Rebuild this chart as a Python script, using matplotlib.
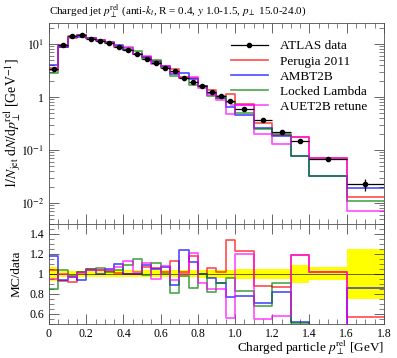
import numpy as np
import matplotlib.pyplot as plt
from matplotlib.lines import Line2D
from matplotlib.ticker import FixedLocator, MultipleLocator, FuncFormatter

plt.rcParams['font.family'] = ['Liberation Serif', 'DejaVu Serif']
plt.rcParams['mathtext.fontset'] = 'stix'
plt.rcParams['font.size'] = 9

# bin edges (GeV)
edges = [0.0, 0.05, 0.1, 0.15, 0.2, 0.25, 0.3, 0.35, 0.4, 0.45, 0.5, 0.55, 0.6, 0.65,
         0.7, 0.75, 0.8, 0.85, 0.9, 0.95, 1.0, 1.1, 1.2, 1.3, 1.4, 1.6, 1.8]

# ATLAS data
data = [3.35, 9.4, 14.2, 14.6, 12.4, 11.3, 10.3, 8.7, 7.7, 6.5, 5.3, 4.45, 3.6,
        3.05, 2.33, 1.94, 1.6, 1.26, 1.04, 0.85, 0.59, 0.368, 0.22, 0.148, 0.068, 0.0225]
data_relerr = [0.07, 0.03, 0.027, 0.027, 0.03, 0.03, 0.03, 0.035, 0.035, 0.035, 0.035,
               0.035, 0.035, 0.035, 0.035, 0.035, 0.04, 0.04, 0.04, 0.04, 0.05, 0.05,
               0.05, 0.09, 0.065, 0.25]

# MC / data ratios
perugia = [1.04, 0.93, 0.92, 1.02, 1.05, 1.04, 1.03, 1.01, 1.0, 1.0, 1.07, 1.06, 1.02,
           1.13, 1.02, 1.18, 1.0, 1.06, 1.02, 1.34, 1.23, 0.88, 0.87, 1.19, 1.02, 0.57]
ambt2b = [1.18, 0.94, 0.97, 0.94, 1.04, 1.0, 1.05, 1.10, 1.0, 1.0, 1.09, 1.05, 1.07,
          0.89, 1.24, 1.12, 1.0, 0.96, 0.91, 0.77, 0.78, 0.71, 0.82, 0.52, 0.48, 0.857]
locked = [0.85, 1.04, 0.98, 1.02, 1.05, 1.06, 1.02, 1.04, 1.09, 1.15, 0.99, 1.11, 1.0,
          0.81, 0.98, 0.86, 1.0, 0.82, 0.91, 0.96, 0.83, 0.68, 0.91, 0.51, 0.48, 0.49]
auet2b = [0.95, 1.0, 0.97, 1.01, 1.04, 1.04, 1.04, 1.07, 1.13, 1.02, 1.11, 0.95, 1.08,
          0.94, 1.0, 1.21, 0.91, 0.85, 0.85, 0.56, 1.20, 0.55, 0.58, 1.19, 1.02, 0.31]

edges = np.array(edges)
data = np.array(data)
err = data * np.array(data_relerr)
centers = 0.5 * (edges[1:] + edges[:-1])
halfw = 0.5 * (edges[1:] - edges[:-1])

mcs = [('Perugia 2011', perugia, 'red'),
       ('AMBT2B', ambt2b, 'blue'),
       ('Locked Lambda', locked, 'green'),
       ('AUET2B retune', auet2b, 'magenta')]

fig = plt.figure(figsize=(3.97, 3.58), dpi=100)
ax = fig.add_axes([0.1234, 0.3743, 0.8436, 0.5615])
rax = fig.add_axes([0.1234, 0.095, 0.8436, 0.2793], sharex=ax)

def step(a, vals, **kw):
    v = np.append(vals, vals[-1])
    return a.step(edges, v, where='post', **kw)

ax.errorbar(centers, data, xerr=halfw, yerr=err, fmt='o', color='black',
            ms=3, lw=0.9, capsize=0, zorder=5)
handles = [Line2D([], [], color='black', lw=0.9, marker='o', ms=3, label='ATLAS data')]
for name, r, c in mcs:
    vals = data * np.array(r)
    l, = step(ax, vals, color=c, lw=1.2, alpha=0.7, label=name)
    handles.append(l)

ax.set_yscale('log')
ax.set_ylim(4e-3, 25)
ax.set_xlim(0, 1.8)

def logfmt(v, pos):
    e = int(round(np.log10(v)))
    if e == 0:
        return '1'
    return r'$10^{%d}$' % e
ax.yaxis.set_major_formatter(FuncFormatter(logfmt))
ax.set_ylabel(r'$1/N_{\rm jet}\;{\rm d}N/{\rm d}p_{\perp}^{\rm rel}$ [GeV$^{-1}$]', fontsize=10)
ax.set_title(r'Charged jet $p_{\perp}^{\rm rel}$ (anti-$k_t$, R = 0.4, $y$ 1.0-1.5, $p_{\perp}$ 15.0-24.0)',
             loc='left', fontsize=8, pad=6)
plt.setp(ax.get_xticklabels(), visible=False)

leg = ax.legend(handles=handles, loc='upper left', bbox_to_anchor=(0.515, 0.96),
                frameon=False, handlelength=2.8, handletextpad=0.9, labelspacing=0.22,
                fontsize=9.5, borderaxespad=0.3)

# ratio panel
band_lo = 1 - np.array(data_relerr)
band_hi = 1 + np.array(data_relerr)
rax.fill_between(edges, np.append(band_lo, band_lo[-1]), np.append(band_hi, band_hi[-1]),
                 step='post', color='yellow', lw=0, zorder=1)
rax.hlines(1, 0, 1.8, color='black', lw=0.6, alpha=0.7, zorder=2)
for name, r, c in mcs:
    step(rax, np.array(r), color=c, lw=1.2, alpha=0.7, zorder=3)
rax.set_ylim(0.5, 1.5)
rax.yaxis.set_major_locator(FixedLocator([0.6, 0.8, 1.0, 1.2, 1.4]))
rax.yaxis.set_major_formatter(FuncFormatter(lambda v, p: '1' if abs(v - 1) < 1e-6 else '%.1f' % v))
rax.yaxis.set_minor_locator(MultipleLocator(0.05))
rax.xaxis.set_major_locator(MultipleLocator(0.2))
rax.xaxis.set_major_formatter(FuncFormatter(lambda v, p: '0' if abs(v) < 1e-6 else '%.1f' % v))
rax.xaxis.set_minor_locator(MultipleLocator(0.05))
rax.set_ylabel('MC/data', fontsize=9.5)
rax.set_xlabel(r'Charged particle $p_{\perp}^{\rm rel}$ [GeV]', loc='right', labelpad=-1, fontsize=9.5)

for a in (ax, rax):
    a.tick_params(which='both', direction='in', top=True, right=True, color='0.3', labelsize=8.5)
    a.tick_params(which='major', length=7, width=0.6)
    a.tick_params(which='minor', length=3.5, width=0.5)
    for s in a.spines.values():
        s.set_linewidth(0.6)
        s.set_color('0.3')
rax.tick_params(axis='x', pad=3)

ax.yaxis.set_label_coords(-0.078, 0.5)
rax.yaxis.set_label_coords(-0.078, 0.5)

fig.savefig('out.png', dpi=100)
